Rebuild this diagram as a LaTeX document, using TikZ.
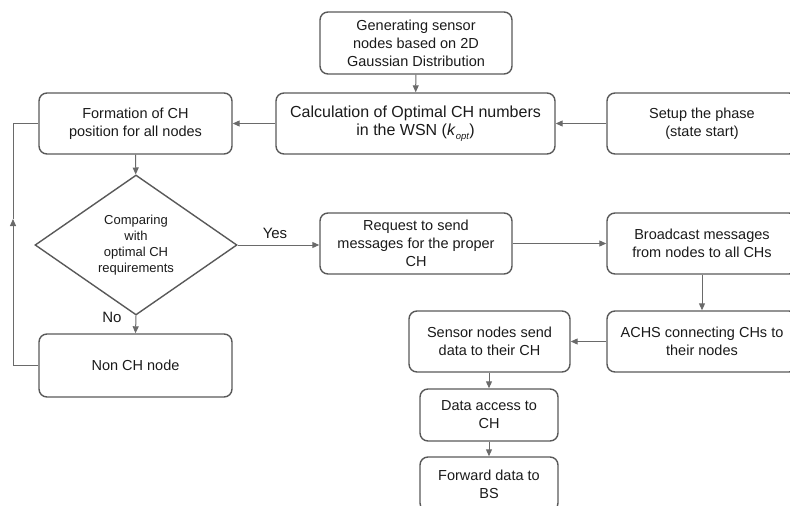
\documentclass[tikz,border=0pt]{standalone}
\usepackage{fontspec}
\setmainfont{Liberation Sans}
\usetikzlibrary{arrows.meta,shapes.geometric}
\definecolor{boxc}{HTML}{595959}
\definecolor{linec}{HTML}{6A6A6A}
\definecolor{txtc}{HTML}{1A1A1A}
\begin{document}
\begin{tikzpicture}[x=1pt,y=-1pt,
  box/.style={draw=boxc, line width=1.4pt, rounded corners=8pt, align=center,
    text=txtc, font=\fontsize{14.5}{18}\selectfont, inner sep=2pt},
  conn/.style={draw=linec, line width=1pt, -{Triangle[length=7pt,width=6pt]}},
  plainln/.style={draw=linec, line width=1pt},
  lbl/.style={text=txtc, font=\fontsize{15}{16}\selectfont, inner sep=0pt}]
\useasboundingbox (0,0) rectangle (790,506);

\node[box, minimum width=192pt, minimum height=62pt] (gen) at (416,43)
  {Generating sensor\\nodes based on 2D\\Gaussian Distribution};
\node[box, minimum width=279pt, minimum height=61pt, font=\fontsize{16}{18}\selectfont] (calc) at (415.5,123.5)
  {Calculation of Optimal CH numbers\\in the WSN (\textit{k}\raisebox{-0.45ex}{\fontsize{9.5}{9.5}\selectfont\textit{opt}})};
\node[box, minimum width=190pt, minimum height=61pt] (setup) at (702,123.5)
  {Setup the phase\\(state start)};
\node[box, minimum width=193pt, minimum height=61pt] (form) at (135.5,123.5)
  {Formation of CH\\position for all nodes};
\node[draw=boxc, line width=1.4pt, shape=diamond, aspect=1.44, inner sep=0pt,
  minimum width=202pt, minimum height=140pt, align=center, text=txtc,
  font=\fontsize{13}{16}\selectfont] (dia) at (136,245)
  {Comparing\\with\\optimal CH\\requirements};
\node[box, minimum width=192pt, minimum height=61pt] (req) at (416,243.5)
  {Request to send\\messages for the proper\\CH};
\node[box, minimum width=190pt, minimum height=61pt] (broad) at (702,243.5)
  {Broadcast messages\\from nodes to all CHs};
\node[box, minimum width=193pt, minimum height=63pt] (non) at (135.5,365.5)
  {Non CH node};
\node[box, minimum width=190pt, minimum height=61pt] (achs) at (702,341.5)
  {ACHS connecting CHs to\\their nodes};
\node[box, minimum width=161pt, minimum height=61pt] (sens) at (489.5,341.5)
  {Sensor nodes send\\data to their CH};
\node[box, minimum width=138pt, minimum height=52pt] (data) at (489,415)
  {Data access to\\CH};
\node[box, minimum width=138pt, minimum height=54pt] (fwd) at (489,484)
  {Forward data to\\BS};

\draw[conn] (gen) -- (calc);
\draw[conn] (setup) -- (calc);
\draw[conn] (calc) -- (form);
\draw[conn] (form) -- (dia);
\draw[conn] (dia.east) -- (req.west |- dia.east);
\draw[conn] (req) -- (broad);
\draw[conn] (broad) -- (achs);
\draw[conn] (achs) -- (sens);
\draw[conn] (sens.south -| data.north) -- (data.north);
\draw[conn] (data) -- (fwd);
\draw[conn] (dia.south) -- (non.north);

\coordinate (lb) at (13,365.5);
\coordinate (lm) at (13,219);
\coordinate (lt) at (13,123.5);
\draw[conn] (non.west) -- (lb) -- (lm);
\draw[plainln] (lm) -- (lt) -- (form.west);

\node[lbl] (yes) at (275,233) {Yes};
\node[lbl] (no) at (112,317) {No};
\end{tikzpicture}
\end{document}
